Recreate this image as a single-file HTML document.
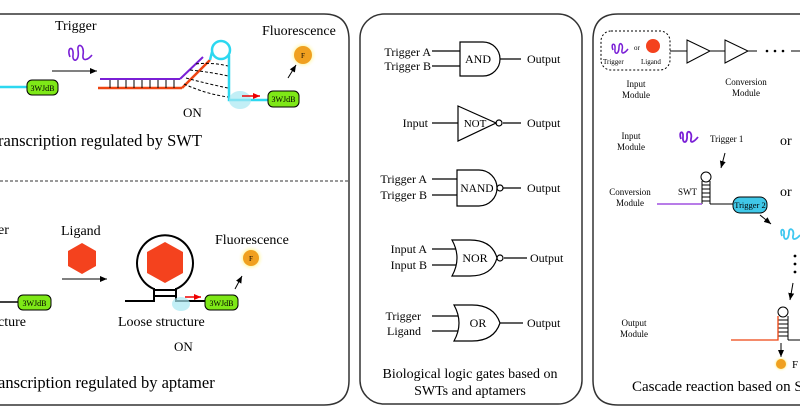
<!DOCTYPE html>
<html><head><meta charset="utf-8"><style>
body{margin:0;background:#fff;}
svg{display:block;font-family:"Liberation Serif",serif;}
</style></head><body>
<svg width="800" height="419" viewBox="0 0 800 419" xmlns="http://www.w3.org/2000/svg">
<defs>
<marker id="a" markerWidth="8" markerHeight="8" refX="7" refY="4" orient="auto" markerUnits="userSpaceOnUse"><path d="M0,1 L7,4 L0,7 z" fill="#000"/></marker>
<marker id="ar" markerWidth="8" markerHeight="8" refX="7" refY="4" orient="auto" markerUnits="userSpaceOnUse"><path d="M0,1 L7,4 L0,7 z" fill="#e00"/></marker>
<radialGradient id="glow"><stop offset="0.5" stop-color="#fff27a"/><stop offset="1" stop-color="#fff" stop-opacity="0"/></radialGradient>
</defs>
<g fill="none" stroke="#333" stroke-width="1.5">
<path d="M-10,14 H324 Q349,14 349,40 V380 Q349,405 324,405 H-10"/>
<rect x="360" y="14" width="222" height="390" rx="24"/>
<path d="M810,14 H618 Q593,14 593,40 V380 Q593,405 618,405 H810"/>
</g>
<line x1="0" y1="181" x2="349" y2="181" stroke="#333" stroke-dasharray="3,2"/>

<!-- Panel 1 top -->
<text x="55" y="30" font-size="14">Trigger</text>
<path d="M70,57 C66,47 74,45 73,55 C72,63 80,62 78,50 C77,42 85,45 83,55 C82,62 88,60 92,55" stroke="#7a1fd6" stroke-width="1.6" fill="none"/>
<line x1="52" y1="71" x2="97" y2="71" stroke="#000" marker-end="url(#a)"/>
<line x1="0" y1="87" x2="27" y2="87" stroke="#2cd8f0" stroke-width="2.5"/>
<rect x="27" y="80" width="31" height="15" rx="5" fill="#7ee817" stroke="#000"/>
<text x="42.5" y="91" font-size="8" text-anchor="middle">3WJdB</text>
<line x1="100" y1="79" x2="180" y2="79" stroke="#7a1fd6" stroke-width="2"/>
<line x1="180" y1="79" x2="203" y2="57" stroke="#7a1fd6" stroke-width="2"/>
<line x1="98" y1="88" x2="182" y2="88" stroke="#e41" stroke-width="2.5"/>
<line x1="182" y1="88" x2="210" y2="60" stroke="#e41" stroke-width="2.5"/>
<g stroke="#000" stroke-width="1"><path d="M110,80V88M118,80V88M126,80V88M134,80V88M142,80V88M150,80V88M158,80V88M166,80V88M174,80V88"/></g>
<g stroke="#000" stroke-dasharray="3,2" fill="none"><path d="M196,64 Q212,62 228,66"/><path d="M190,70 Q210,72 228,76"/><path d="M186,78 Q208,84 228,88"/><path d="M184,84 Q206,94 228,97"/></g>
<circle cx="221" cy="50" r="9" fill="none" stroke="#2cd8f0" stroke-width="2.5"/>
<path d="M212,52 L210,60 M229,55 V100 H268" stroke="#2cd8f0" stroke-width="2.5" fill="none"/>
<ellipse cx="240" cy="100" rx="11" ry="9" fill="#a8e8f2" opacity="0.7"/>
<line x1="242" y1="96" x2="260" y2="96" stroke="#e00" stroke-width="1.5" marker-end="url(#ar)"/>
<rect x="268" y="91" width="31" height="16" rx="5" fill="#7ee817" stroke="#000"/>
<text x="283.5" y="102" font-size="8" text-anchor="middle">3WJdB</text>
<text x="183" y="117" font-size="13">ON</text>
<text x="262" y="35" font-size="14">Fluorescence</text>
<circle cx="303" cy="55" r="14" fill="url(#glow)"/>
<circle cx="303" cy="55" r="9" fill="#f0a020"/>
<text x="303" y="58" font-size="7" text-anchor="middle">F</text>
<line x1="288" y1="78" x2="296" y2="65" stroke="#000" marker-end="url(#a)"/>
<text x="-2" y="146" font-size="16.5">ranscription regulated by SWT</text>

<!-- Panel 1 bottom -->
<text x="-2" y="234" font-size="14">er</text>
<text x="61" y="235" font-size="14">Ligand</text>
<polygon points="82,243 96,251 96,266 82,274 68,266 68,251" fill="#f4421e"/>
<line x1="62" y1="279" x2="107" y2="279" stroke="#000" marker-end="url(#a)"/>
<line x1="0" y1="302" x2="18" y2="302" stroke="#000" stroke-width="1.5"/>
<rect x="18" y="295" width="33" height="15" rx="5" fill="#7ee817" stroke="#000"/>
<text x="34.5" y="306" font-size="8" text-anchor="middle">3WJdB</text>
<text x="-2" y="326" font-size="14">cture</text>
<path d="M154,289 A28,28 0 1 1 176,289" fill="none" stroke="#000" stroke-width="2"/>
<polygon points="165,242 183,252 183,273 165,283 147,273 147,252" fill="#f4421e"/>
<path d="M154,288 V301 H125 M176,288 V301 H205 M154,290 H176 M154,296 H176" stroke="#000" stroke-width="2" fill="none"/>
<ellipse cx="181" cy="304" rx="9" ry="7" fill="#a8e8f2" opacity="0.7"/>
<line x1="185" y1="297" x2="201" y2="297" stroke="#e00" stroke-width="1.5" marker-end="url(#ar)"/>
<rect x="205" y="295" width="33" height="15" rx="5" fill="#7ee817" stroke="#000"/>
<text x="221.5" y="306" font-size="8" text-anchor="middle">3WJdB</text>
<text x="118" y="326" font-size="14">Loose structure</text>
<text x="174" y="351" font-size="13">ON</text>
<text x="215" y="244" font-size="14">Fluorescence</text>
<circle cx="251" cy="258" r="13" fill="url(#glow)"/>
<circle cx="251" cy="258" r="8" fill="#f0a020"/>
<text x="251" y="261" font-size="7" text-anchor="middle">F</text>
<line x1="235" y1="289" x2="242" y2="276" stroke="#000" marker-end="url(#a)"/>
<text x="-2" y="388" font-size="16.5">anscription regulated by aptamer</text>

<!-- Panel 2 gates -->
<g stroke="#000" stroke-width="1.2" fill="none">
<path d="M432,51H460M432,66H460M460,42H483A17,17 0 0 1 483,76H460Z M500,59H521"/>
<path d="M432,123H458M458,106L496,123L458,141Z M503,123H521"/><circle cx="499" cy="123" r="3"/>
<path d="M432,179H457M432,195H457M457,170H479A18,18 0 0 1 479,206H457Z M503,188H521"/><circle cx="500" cy="188" r="3"/>
<path d="M432,249H456M432,265H456M452,240H470Q492,240 497,258Q492,276 470,276H452Q462,258 452,240Z M504,258H527"/><circle cx="500" cy="258" r="3"/>
<path d="M432,316H458M432,331H458M454,305H472Q494,305 500,323Q494,341 472,341H454Q464,323 454,305Z M500,323H523"/>
</g>
<g font-size="12">
<text x="431" y="56" text-anchor="end">Trigger A</text><text x="431" y="70" text-anchor="end">Trigger B</text><text x="527" y="63">Output</text>
<text x="428" y="127" text-anchor="end">Input</text><text x="527" y="127">Output</text>
<text x="475" y="127" font-size="11" text-anchor="middle">NOT</text>
<text x="478" y="63" text-anchor="middle">AND</text>
<text x="477" y="192" font-size="11.5" text-anchor="middle">NAND</text>
<text x="475" y="262" text-anchor="middle">NOR</text>
<text x="478" y="327" text-anchor="middle">OR</text>
<text x="427" y="183" text-anchor="end">Trigger A</text><text x="427" y="199" text-anchor="end">Trigger B</text><text x="527" y="192">Output</text>
<text x="427" y="253" text-anchor="end">Input A</text><text x="427" y="269" text-anchor="end">Input B</text><text x="530" y="262">Output</text>
<text x="421" y="320" text-anchor="end">Trigger</text><text x="421" y="335" text-anchor="end">Ligand</text><text x="527" y="327">Output</text>
</g>
<text x="470" y="378" font-size="14" text-anchor="middle">Biological logic gates based on</text>
<text x="470" y="395" font-size="14" text-anchor="middle">SWTs and aptamers</text>

<!-- Panel 3 -->
<rect x="601" y="31" width="69" height="39" rx="10" fill="none" stroke="#000" stroke-dasharray="2,2"/>
<path d="M613,50 C610,43 616,42 615,49 C614,55 619,55 619,47 C619,41 624,44 622,50 C621,55 625,53 628,49" stroke="#7a1fd6" stroke-width="1.5" fill="none"/>
<text x="634" y="50" font-size="7">or</text>
<circle cx="653" cy="46" r="7" fill="#f4421e"/>
<text x="603" y="64" font-size="7">Trigger</text><text x="641" y="64" font-size="7">Ligand</text>
<path d="M670,51H687M687,40L710,51L687,63Z M710,51H725M725,40L748,51L725,63Z M748,51H757" stroke="#000" fill="none"/>
<g fill="#000"><circle cx="767" cy="51" r="1.3"/><circle cx="775" cy="51" r="1.3"/><circle cx="783" cy="51" r="1.3"/></g>
<line x1="791" y1="51" x2="800" y2="51" stroke="#000"/>
<g font-size="9" text-anchor="middle">
<text x="636" y="87">Input</text><text x="636" y="98">Module</text>
<text x="746" y="85">Conversion</text><text x="746" y="96">Module</text>
<text x="631" y="139">Input</text><text x="631" y="150">Module</text>
<text x="630" y="195">Conversion</text><text x="630" y="206">Module</text>
<text x="634" y="326">Output</text><text x="634" y="337">Module</text>
</g>
<path d="M681,139 C678,131 684,130 683,137 C682,144 688,144 687,135 C687,129 693,132 691,139 C690,144 694,142 698,137" stroke="#7a1fd6" stroke-width="1.8" fill="none"/>
<text x="710" y="142" font-size="9">Trigger 1</text>
<text x="780" y="145" font-size="14">or</text>
<text x="780" y="196" font-size="14">or</text>
<line x1="725" y1="153" x2="721" y2="168" stroke="#000" marker-end="url(#a)"/>
<text x="678" y="195" font-size="9">SWT</text>
<circle cx="706" cy="177" r="5" fill="none" stroke="#000"/>
<path d="M702,181V204M710,181V204M702,185H710M702,189H710M702,193H710M702,197H710M702,201H710" stroke="#000" fill="none"/>
<line x1="657" y1="204" x2="702" y2="204" stroke="#a050e0" stroke-width="1.5"/>
<line x1="710" y1="204" x2="734" y2="204" stroke="#000"/>
<rect x="733" y="197" width="34" height="16" rx="7" fill="#40c8e8" stroke="#000"/>
<text x="750" y="208" font-size="8.5" text-anchor="middle">Trigger 2</text>
<line x1="760" y1="215" x2="771" y2="224" stroke="#000" marker-end="url(#a)"/>
<path d="M782,236 C779,228 785,228 784,234 C783,241 789,241 789,232 C789,227 795,229 793,236 C792,241 797,239 800,235" stroke="#40c8f0" stroke-width="1.8" fill="none"/>
<g fill="#000"><circle cx="795" cy="256" r="1.4"/><circle cx="795" cy="264" r="1.4"/><circle cx="795" cy="272" r="1.4"/></g>
<line x1="793" y1="283" x2="790" y2="300" stroke="#000" marker-end="url(#a)"/>
<circle cx="783" cy="312" r="5" fill="none" stroke="#000"/>
<path d="M778,316V340M788,316V340M778,320H788M778,324H788M778,328H788M778,332H788M778,336H788M788,340H800" stroke="#000" fill="none"/>
<path d="M731,340H778V316" stroke="#e41" stroke-width="1.3" fill="none"/>
<line x1="781" y1="343" x2="781" y2="357" stroke="#000" marker-end="url(#a)"/>
<circle cx="781" cy="364" r="8" fill="url(#glow)"/>
<circle cx="781" cy="364" r="5" fill="#f0a020"/>
<text x="792" y="368" font-size="11">F</text>
<text x="632" y="391" font-size="15">Cascade reaction based on SV</text>
</svg>
</body></html>
